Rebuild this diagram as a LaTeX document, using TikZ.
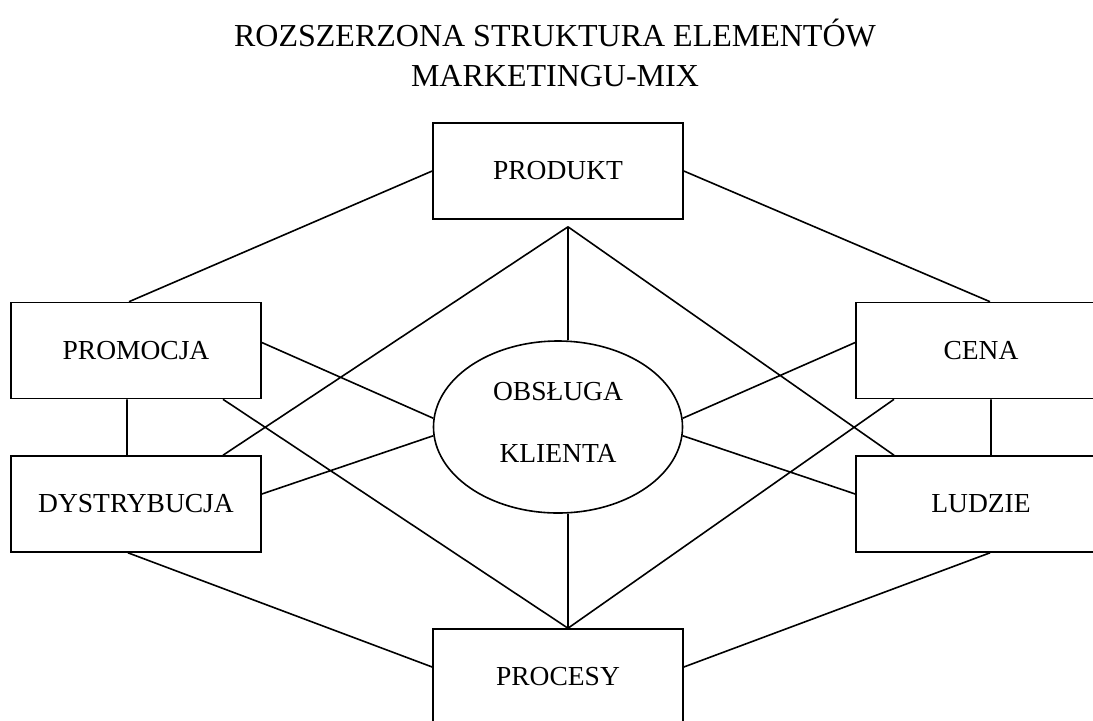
\documentclass[tikz,border=0pt]{standalone}
\usepackage{fontspec}
\setmainfont{Liberation Serif}
\usetikzlibrary{calc,shapes}

\begin{document}
\begin{tikzpicture}[x=0.5pt,y=-0.5pt,
                    line width=0.8pt,inner sep=0pt,
                    element/.style={rectangle,draw,minimum width=125pt,minimum height=48pt,
                                    font=\fontsize{13.75}{16}\selectfont},
                    centre/.style={ellipse,draw,minimum width=124.5pt,minimum height=86pt,
                                   align=center,font=\fontsize{13.75}{16}\selectfont}]
\useasboundingbox (0,0) rectangle (1093,720);
%
\node[align=center,font=\fontsize{16}{20}\selectfont] (title) at (555,53)
  {ROZSZERZONA STRUKTURA ELEMENTÓW\\MARKETINGU-MIX};
%
\node[element] (produkt)     at (558,171)   {PRODUKT};
\node[element] (promocja)    at (136,350.5) {PROMOCJA};
\node[element] (dystrybucja) at (136,504)   {DYSTRYBUCJA};
\node[element] (cena)        at (981,350.5) {CENA};
\node[element] (ludzie)      at (981,504)   {LUDZIE};
\node[element] (procesy)     at (558,677)   {PROCESY};
\node[centre]  (obsluga)     at (558,427)   {OBSŁUGA\\[15pt]KLIENTA\rule[-5pt]{0pt}{0pt}};
%
\coordinate (pa) at ($ (produkt.south) + (10,7) $);
\coordinate (pb) at ($ (procesy.north) + (10,0) $);
%
\path[draw]
  (produkt.west) -- ($ (promocja.north) + (-7,0) $)
  (produkt.east) -- ($ (cena.north) + (9,0) $)
  (pa) -- (pa |- obsluga.north)
  (pa) -- ($ (dystrybucja.north) + (87,0) $)
  (pa) -- ($ (ludzie.north) + (-87,0) $)
  ($ (promocja.east) + (0,-8) $) -- (obsluga.176)
  ($ (promocja.south) + (87,0) $) -- (pb)
  ($ (promocja.south) + (-9,0) $) -- ($ (dystrybucja.north) + (-9,0) $)
  ($ (dystrybucja.east) + (0,-10) $) -- (obsluga.184)
  ($ (dystrybucja.south) + (-8,0) $) -- ($ (procesy.west) + (0,-10) $)
  ($ (cena.west) + (0,-8) $) -- (obsluga.4)
  ($ (cena.south) + (-87,0) $) -- (pb)
  ($ (cena.south) + (10,0) $) -- ($ (ludzie.north) + (10,0) $)
  ($ (ludzie.west) + (0,-10) $) -- (obsluga.356)
  ($ (ludzie.south) + (9,0) $) -- ($ (procesy.east) + (0,-10) $)
  (obsluga.south -| pb) -- (pb)
  ;
\end{tikzpicture}
\end{document}
